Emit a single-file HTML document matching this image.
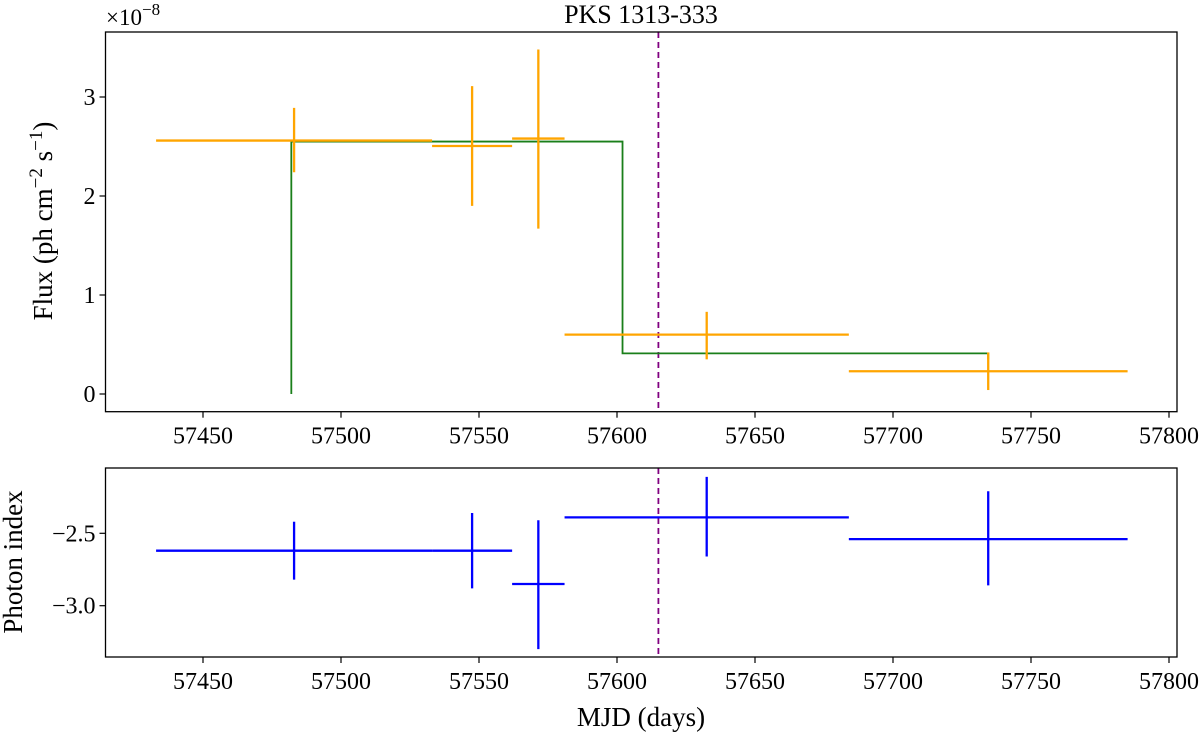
<!DOCTYPE html>
<html><head><meta charset="utf-8"><style>
body{margin:0;background:#fff}
svg text{font-family:"Liberation Serif",serif;fill:#000}
</style></head><body>
<svg id="chart" width="1200" height="735" xmlns="http://www.w3.org/2000/svg">
<text x="641" y="23" font-size="26" text-anchor="middle">PKS 1313-333</text>
<g id="gtop"></g>
<g id="gbot"></g>
<text x="641" y="726" font-size="27" text-anchor="middle">MJD (days)</text>
<text transform="translate(52,221) rotate(-90)" font-size="27" text-anchor="middle">Flux (ph cm<tspan dy="-10" font-size="19">−2</tspan><tspan dy="10"> s</tspan><tspan dy="-10" font-size="19">−1</tspan><tspan dy="10">)</tspan></text>
<text transform="translate(22,562) rotate(-90)" font-size="27" text-anchor="middle">Photon index</text>
<text x="106" y="25" font-size="23">×10<tspan dy="-10" font-size="17">−8</tspan></text>
</svg>
<script>
const xCenters=[57483,57547.5,57571.5,57632.5,57734.5];
const xLo=[57433,57533,57562,57581,57684];
const xHi=[57533,57562,57581,57684,57785];
const flux=[2.56,2.505,2.58,0.60,0.23];
const fluxHi=[2.89,3.11,3.48,0.83,0.42];
const fluxLo=[2.24,1.90,1.67,0.35,0.04];
const idx=[-2.62,-2.62,-2.85,-2.39,-2.54];
const idxHi=[-2.42,-2.36,-2.41,-2.11,-2.21];
const idxLo=[-2.82,-2.88,-3.30,-2.66,-2.86];
const stepX=[57482,57482,57602,57602,57734.5,57734.5];
const stepY=[0,2.55,2.55,0.41,0.41,0.35];
const eventX=57615;
const xTicks=[57450,57500,57550,57600,57650,57700,57750,57800];
const fluxTicks=[0,1,2,3];
const idxTicks=[-2.5,-3.0];
const NS="http://www.w3.org/2000/svg";
const L=105.5,R=1177;
const sx=v=>341+(v-57500)*2.76;
const syT=v=>394-v*99;
const syB=v=>533.3-(v+2.5)*144.8;
function mk(p,t,a){const e=document.createElementNS(NS,t);for(const k in a)e.setAttribute(k,a[k]);p.appendChild(e);return e;}
function panel(g,y0,y1,sy,yt,fmt,name){
  const c=mk(g,'line',{x1:sx(eventX),x2:sx(eventX),y1:y0,y2:y1,stroke:'#800080','stroke-width':1.8,'stroke-dasharray':'6,4'});
  
  
  xTicks.forEach(t=>{const x=sx(t);
    const l=mk(g,'line',{x1:x,x2:x,y1:y1,y2:y1+6,stroke:'#000','stroke-width':1.2});
    
    
    const tx=mk(g,'text',{x:x,y:y1+32,'font-size':24,'text-anchor':'middle'});tx.textContent=t;
    
    });
  yt.forEach(t=>{const y=sy(t);
    const l=mk(g,'line',{x1:L-6,x2:L,y1:y,y2:y,stroke:'#000','stroke-width':1.2});
    
    
    const tx=mk(g,'text',{x:L-10,y:y+8,'font-size':24,'text-anchor':'end'});tx.textContent=fmt(t);
    
    });
}
function frame(g,y0,y1,name){const r=mk(g,'rect',{x:L,y:y0,width:R-L,height:y1-y0,fill:'none',stroke:'#000','stroke-width':1.3});
  
  }
function errs(g,sy,ys,hi,lo,col,name){
  xCenters.forEach((x,i)=>{
    const h=mk(g,'line',{x1:sx(xLo[i]),x2:sx(xHi[i]),y1:sy(ys[i]),y2:sy(ys[i]),stroke:col,'stroke-width':2.3});
    
    
    const v=mk(g,'line',{x1:sx(x),x2:sx(x),y1:sy(hi[i]),y2:sy(lo[i]),stroke:col,'stroke-width':2.3});
    
    
  });
}
const gTop=document.getElementById('gtop'),gBot=document.getElementById('gbot');
panel(gTop,32,411.7,syT,fluxTicks,t=>t,'flux');
const pts=stepX.map((x,i)=>sx(x)+','+syT(stepY[i])).join(' ');
const st=mk(gTop,'polyline',{points:pts,fill:'none',stroke:'#1a7f1a','stroke-width':1.8});


errs(gTop,syT,flux,fluxHi,fluxLo,'#ffa500','flux-point');
frame(gTop,32,411.7,'flux');
panel(gBot,468,657,syB,idxTicks,t=>'−'+Math.abs(t).toFixed(1),'index');
errs(gBot,syB,idx,idxHi,idxLo,'#0000ff','index-point');
frame(gBot,468,657,'index');
</script>
</body></html>
